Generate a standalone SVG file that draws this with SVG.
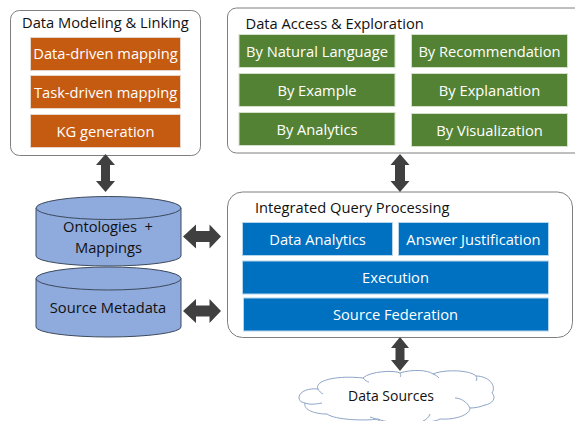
<svg xmlns="http://www.w3.org/2000/svg" width="575" height="421" viewBox="0 0 575 421">
<style>
text{font-family:"Open Sans","Noto Sans","Liberation Sans",sans-serif;font-size:14.7px;text-anchor:middle;white-space:pre}
.t{fill:#111;text-anchor:start}
.d{fill:#111}
.w{fill:#fff}
.p{fill:#fff;stroke:#7f7f7f;stroke-width:1}
.o{fill:#c55a11;stroke:#e8d5c8;stroke-width:1}
.g{fill:#548235;stroke:#d5e0cc;stroke-width:1}
.b{fill:#0070c0;stroke:#b5d5ec;stroke-width:1}
.c{fill:#8faadc;stroke:#3c4a5c;stroke-width:1}
.a{fill:#404040}
.l{fill:none;stroke:#8ea5c8;stroke-width:1}
</style>
<g id="modeling">
<rect class="p" x="10.500" y="10.500" width="190" height="145" rx="9"/>
<text class="t" x="22" y="28">Data Modeling &amp; Linking</text>
<rect class="o" x="30.500" y="37.500" width="150" height="33"/>
<text class="w" x="105.500" y="59">Data-driven mapping</text>
<rect class="o" x="30.500" y="75.500" width="150" height="33"/>
<text class="w" x="105.500" y="98">Task-driven mapping</text>
<rect class="o" x="30.500" y="114.500" width="150" height="33"/>
<text class="w" x="105.500" y="137">KG generation</text>
</g>
<g id="access">
<rect class="p" x="227.500" y="8" width="360" height="145" rx="9"/>
<text class="t" x="245.500" y="29">Data Access &amp; Exploration</text>
<rect class="g" x="239" y="34.500" width="156" height="33"/>
<text class="w" x="317" y="57">By Natural Language</text>
<rect class="g" x="411.500" y="34.500" width="156" height="33"/>
<text class="w" x="489.500" y="57">By Recommendation</text>
<rect class="g" x="239" y="73.500" width="156" height="33"/>
<text class="w" x="317" y="96">By Example</text>
<rect class="g" x="411.500" y="73.500" width="156" height="33"/>
<text class="w" x="489.500" y="96">By Explanation</text>
<rect class="g" x="239" y="112.500" width="156" height="33"/>
<text class="w" x="317" y="135">By Analytics</text>
<rect class="g" x="411.500" y="113.500" width="156" height="33"/>
<text class="w" x="489.500" y="136">By Visualization</text>
</g>
<g id="query">
<rect class="p" x="227.500" y="192" width="345" height="145.500" rx="15"/>
<text class="t" x="255" y="213">Integrated Query Processing</text>
<rect class="b" x="242.500" y="222.500" width="150" height="33"/>
<text class="w" x="317.500" y="245">Data Analytics</text>
<rect class="b" x="398.500" y="222.500" width="150" height="33"/>
<text class="w" x="473.500" y="245">Answer Justification</text>
<rect class="b" x="242.500" y="261" width="306" height="33"/>
<text class="w" x="395.500" y="283">Execution</text>
<rect class="b" x="243.500" y="298" width="305" height="33"/>
<text class="w" x="395.500" y="320">Source Federation</text>
</g>
<g id="ontologies">
<path class="c" d="M36 208V256A72.500 10 0 0 0 181 256V208Z"/>
<ellipse class="c" cx="108.500" cy="208" rx="72.500" ry="11.500"/>
<text class="d" x="108" y="232">Ontologies  +</text>
<text class="d" x="108.500" y="253">Mappings</text>
</g>
<g id="metadata">
<path class="c" d="M36 278.500V327A72.500 10 0 0 0 181 327V278.500Z"/>
<ellipse class="c" cx="108.500" cy="278.500" rx="72.500" ry="11.500"/>
<text class="d" x="108" y="313">Source Metadata</text>
</g>
<g id="sources">
<path d="M299 397C300 391 309 388 318 389C314 381 335 375 363 378C370 371 395 370 400 373C412 369 428 370 433 374C445 369 470 370 476 376C488 376 497 385 492 393C497 398 492 404 485 405C480 407 475 408 470 408C470 415 455 420 440 419C432 424 390 425 378 419C365 421 335 420 327 414C315 414 303 410 305 403C300 402 299 400 299 397Z" fill="#fff" stroke="#8ea5c8" stroke-width="1"/>
<path class="l" d="M305 403C310 405 316 404 322 403M318 389C319 391 321 393 323 394M363 378C365 380 367 382 369 382M400 373C401 375 401 376 400 377M433 374C436 375 438 377 439 378M476 376C477 378 477 380 476 381M455 398C461 398 467 402 470 408M430 414C429 417 426 420 423 421M370 417C373 418 377 419 380 421"/>
<text class="d" x="391" y="401" style="font-size:14px">Data Sources</text>
</g>
<g id="connectors">
<path class="a" d="M105.500 154L115 165H110V181H115L105.500 192L96 181H101V165H96Z"/>
<path class="a" d="M400 154L409.500 165H405V181H409.500L400 192L390.500 181H395V165H390.500Z"/>
<path class="a" d="M183 236.500L196 224.500V231H209.500V224.500L221 236.500L209.500 248.500V242H196V248.500Z"/>
<path class="a" d="M183 311L196 299V305.500H209.500V299L221 311L209.500 323V316.500H196V323Z"/>
<path class="a" d="M400 337L409 348H404.500V360H409L400 371L391 360H395.500V348H391Z"/>
</g>
</svg>
